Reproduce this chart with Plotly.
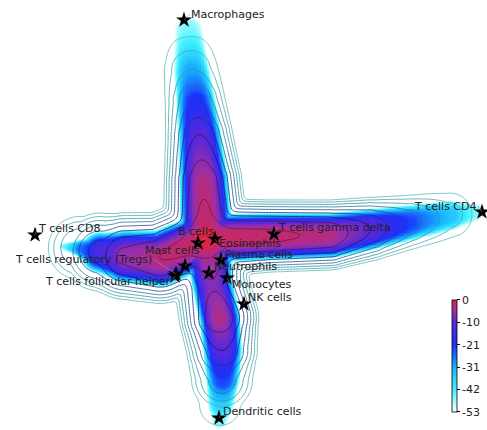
import numpy as np
import plotly.graph_objects as go

# ---------------- data ----------------
# skeleton of the density "cross": node positions, ridge value, line-width, fill-width
upper_x = [18.8, 19.1, 19.5, 19.9, 20.3, 20.6]
upper_y = [40.0, 36.0, 33.0, 29.5, 25.0, 19.2]
upper_peak = [-47, -35, -25, -15, -6, -3]
upper_wline = [3.0, 3.2, 3.3, 3.6, 4.1, 4.5]
upper_wfill = [1.4, 1.8, 2.0, 2.2, 2.5, 2.7]

left_x = [6.2, 8.0, 10.0, 12.5, 16.0, 20.6]
left_y = [18.4, 18.2, 17.8, 17.4, 17.2, 19.2]
left_peak = [-47, -30, -18, -9, -5, -3]
left_wline = [2.6, 3.6, 4.2, 4.6, 4.8, 4.5]
left_wfill = [0.3, 0.9, 2.1, 2.7, 2.9, 2.7]

right_x = [20.6, 27.0, 33.0, 37.0, 41.0, 45.0, 47.4]
right_y = [19.2, 19.4, 19.5, 20.1, 20.8, 21.5, 21.8]
right_peak = [-3, -4, -6, -15, -27, -38, -47]
right_wline = [4.2, 3.8, 3.7, 3.4, 3.0, 2.8, 2.4]
right_wfill = [2.5, 2.4, 2.3, 2.1, 1.8, 1.5, 0.9]

lower_x = [20.6, 21.2, 21.9, 22.2, 22.2, 22.0, 21.9]
lower_y = [19.2, 14.5, 11.2, 8.0, 5.0, 2.5, 1.0]
lower_peak = [-3, -11, -6, -15, -27, -40, -47]
lower_wline = [4.2, 4.0, 4.2, 3.8, 3.4, 2.8, 2.4]
lower_wfill = [2.5, 2.1, 2.1, 2.0, 1.7, 1.3, 0.8]

fill_gamma = 1.25  # heatmap ridge is brighter than the contour field near the core

cell_types = ["Macrophages", "T cells CD4", "T cells CD8", "T cells regulatory (Tregs)",
              "T cells follicular helper", "Mast cells", "B cells", "Eosinophils",
              "Plasma cells", "Neutrophils", "Monocytes", "NK cells",
              "T cells gamma delta", "Dendritic cells"]
star_x = [18.4, 48.2, 3.5, 17.6, 17.5, 18.5, 19.8, 21.5, 22.1, 20.9, 22.7, 24.4, 27.4, 21.9]
star_y = [41.0, 21.8, 19.5, 15.6, 15.4, 16.4, 18.7, 19.1, 17.0, 15.7, 15.2, 12.6, 19.6, 1.2]
label_x = [19.0, 47.8, 3.7, 15.3, 17.2, 20.1, 21.5, 21.8, 22.4, 21.3, 23.1, 24.7, 27.7, 22.2]
label_y = [41.6, 22.4, 20.2, 17.1, 14.9, 18.0, 19.9, 18.65, 17.6, 16.35, 14.55, 13.3, 20.3, 1.9]
label_anchor = ["left", "right", "left", "right", "right", "right", "right", "left",
                "left", "left", "left", "left", "left", "left"]

cbar_ticks = [-53, -42.4, -31.8, -21.2, -10.6, 0]
cbar_text = ["-53", "-42", "-31", "-21", "-10", "0"]

# ---------------- field construction ----------------
gx = np.arange(0, 48.75, 0.15)
gy = np.arange(0, 43.05, 0.15)
X, Y = np.meshgrid(gx, gy)


def arm_field(xs, ys, ps, ws, floor, expo, gamma=1.0):
    best = np.full(X.shape, -1e9)
    ps = [-53.0 * (abs(v) / 53.0) ** gamma for v in ps]
    for i in range(len(xs) - 1):
        x0, y0, x1, y1 = xs[i], ys[i], xs[i + 1], ys[i + 1]
        dx, dy = x1 - x0, y1 - y0
        L2 = dx * dx + dy * dy
        t = np.clip(((X - x0) * dx + (Y - y0) * dy) / L2, 0, 1)
        d = np.hypot(X - (x0 + t * dx), Y - (y0 + t * dy))
        p = ps[i] + t * (ps[i + 1] - ps[i])
        w = ws[i] + t * (ws[i + 1] - ws[i])
        z = p + (floor - p) * (d / w) ** expo
        best = np.maximum(best, z)
    return best


def softmax(fields, T=3.0):
    m = np.max(fields, axis=0)
    return m + T * np.log(np.sum(np.exp((fields - m) / T), axis=0))


arms = [(upper_x, upper_y, upper_peak, upper_wline, upper_wfill),
        (left_x, left_y, left_peak, left_wline, left_wfill),
        (right_x, right_y, right_peak, right_wline, right_wfill),
        (lower_x, lower_y, lower_peak, lower_wline, lower_wfill)]

Zline = softmax(np.array([arm_field(a[0], a[1], a[2], a[3], -50, 2.2) for a in arms]))
Zfill = softmax(np.array([arm_field(a[0], a[1], a[2], a[4], -53, 3.2, fill_gamma) for a in arms]),
                T=2.0)
Zfill = np.clip(Zfill, -53, 0)

heat_scale = [[0.0, "#ffffff"], [0.2, "#40f4ff"], [0.4, "#18b0ff"], [0.6, "#1a30ff"],
              [0.8, "#5a28d8"], [0.9, "#9a30a8"], [1.0, "#dc2448"]]
line_scale = [[0.0, "#5ab8b8"], [0.3, "#2a8a9a"], [0.55, "#1c3c8c"], [0.75, "#1a1860"],
              [0.9, "#5a1448"], [1.0, "#801030"]]

fig = go.Figure()
fig.add_trace(go.Heatmap(
    x=gx, y=gy, z=Zfill, zmin=-53, zmax=0, colorscale=heat_scale, zsmooth="best",
    hoverinfo="skip",
    colorbar=dict(x=0.928, xanchor="left", y=0.042, yanchor="bottom", len=0.26,
                  lenmode="fraction", thickness=5, thicknessmode="pixels",
                  outlinewidth=0.8, outlinecolor="#000", ticks="outside", ticklen=3,
                  tickwidth=0.8, tickcolor="#000", tickvals=cbar_ticks, ticktext=cbar_text,
                  tickfont=dict(size=11, color="#222", family="DejaVu Sans"),
                  xpad=0, ypad=0)))
fig.add_trace(go.Contour(
    x=gx, y=gy, z=Zline, zauto=False, zmin=-45, zmax=0, colorscale=line_scale,
    contours=dict(start=-45, end=-5, size=5, coloring="lines"),
    line=dict(width=0.8, smoothing=1.0), showscale=False, hoverinfo="skip"))
fig.add_trace(go.Scatter(
    x=star_x, y=star_y, mode="markers", text=cell_types,
    marker=dict(symbol="star", size=12, color="black", line=dict(width=0))))

for name, sx, sy, lx, ly, anc in zip(cell_types, star_x, star_y, label_x, label_y, label_anchor):
    fig.add_annotation(x=sx, y=sy, ax=lx, ay=ly, axref="x", ayref="y", xref="x", yref="y",
                       text=name, showarrow=True, arrowhead=0, arrowwidth=0.5,
                       arrowcolor="#999", standoff=0, startstandoff=0, xanchor=anc,
                       yanchor="middle", borderpad=0,
                       font=dict(size=11, color="#222", family="DejaVu Sans"))

fig.update_layout(width=487, height=430, margin=dict(l=0, r=0, t=0, b=0),
                  paper_bgcolor="white", plot_bgcolor="white", showlegend=False,
                  font=dict(family="DejaVu Sans", size=11, color="#222"))
fig.update_xaxes(range=[0, 48.7], visible=False, fixedrange=True)
fig.update_yaxes(range=[0, 43], visible=False, fixedrange=True)
fig.write_html("out.html", config={"displayModeBar": False},
               post_script="document.body.style.margin='0';document.body.style.overflow='hidden';")
